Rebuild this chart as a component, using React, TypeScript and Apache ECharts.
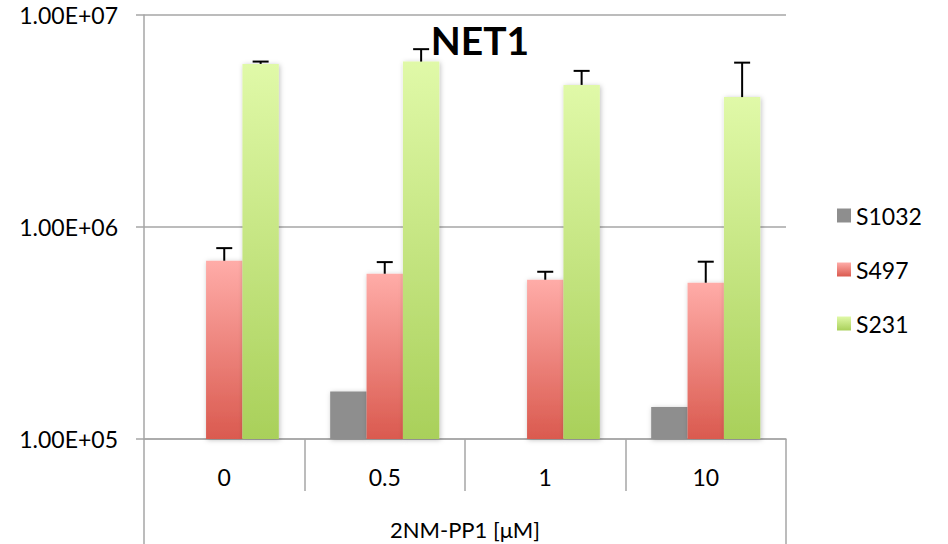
import React, { useEffect, useRef } from "react";
import * as echarts from "echarts";

const categories = ["0", "0.5", "1", "10"];
const seriesNames = ["S1032", "S497", "S231"];
const s1032 = [null, 167600, 98000, 141600];
const s497 = [693000, 602000, 564000, 546000];
const s497Err = [102000, 81000, 51000, 140000];
const s231 = [5880000, 6030000, 4680000, 4100000];
const s231Err = [150000, 870000, 770000, 1860000];
const yTicks = [1e5, 1e6, 1e7];

const FONT = "Lato";
const AXIS_GRAY = "#A6A6A6";
const GAP = 0.32;

const fmtExp = (v: number) => {
  const e = Math.round(Math.log10(v));
  const m = v / Math.pow(10, e);
  return m.toFixed(2) + "E+" + String(e).padStart(2, "0");
};

const grad = (top: string, bottom: string) =>
  new echarts.graphic.LinearGradient(0, 0, 0, 1, [
    { offset: 0, color: top },
    { offset: 1, color: bottom },
  ]);

export default function App() {
  const ref = useRef<HTMLDivElement>(null);
  useEffect(() => {
    if (!ref.current) return;
    const chart = echarts.init(ref.current, undefined, { renderer: "svg" });

    const errData: any[] = [];
    s497.forEach((v, i) => errData.push([i, v, v + s497Err[i], 1]));
    s231.forEach((v, i) => errData.push([i, v, v + s231Err[i], 2]));

    const shadow = {
      shadowBlur: 5,
      shadowColor: "rgba(0,0,0,0.25)",
      shadowOffsetX: 1,
      shadowOffsetY: 1,
    };

    chart.setOption({
      animation: false,
      backgroundColor: "#ffffff",
      grid: { left: 144, right: 162, top: 15, bottom: 105, containLabel: false },
      legend: {
        orient: "vertical",
        left: 837,
        top: 204,
        padding: 0,
        itemWidth: 14,
        itemHeight: 14,
        itemGap: 31,
        icon: "rect",
        data: seriesNames,
        textStyle: { fontFamily: FONT, fontSize: 23, color: "#000", lineHeight: 22 },
      },
      xAxis: {
        type: "category",
        data: categories,
        boundaryGap: true,
        axisLine: { show: true, lineStyle: { color: AXIS_GRAY, width: 1.5 } },
        axisTick: { show: true, length: 52, interval: 0, lineStyle: { color: AXIS_GRAY, width: 1.5 } },
        axisLabel: { margin: 26, fontFamily: FONT, fontSize: 23, color: "#000", interval: 0 },
        splitLine: { show: false },
      },
      yAxis: {
        type: "log",
        logBase: 10,
        min: yTicks[0],
        max: yTicks[yTicks.length - 1],
        axisLine: { show: true, lineStyle: { color: AXIS_GRAY, width: 1.5 } },
        axisTick: { show: true, length: 8, lineStyle: { color: AXIS_GRAY, width: 1.5 } },
        minorTick: { show: false },
        splitLine: { show: true, lineStyle: { color: AXIS_GRAY, width: 1.5 } },
        axisLabel: {
          margin: 26,
          fontFamily: FONT,
          fontSize: 23,
          color: "#000",
          formatter: (v: number) => fmtExp(v),
        },
      },
      series: [
        {
          name: seriesNames[0],
          type: "bar",
          data: s1032,
          barGap: "0%",
          barCategoryGap: GAP * 100 + "%",
          itemStyle: { color: "#8E8E8E", ...shadow },
        },
        {
          name: seriesNames[1],
          type: "bar",
          data: s497,
          barGap: "0%",
          barCategoryGap: GAP * 100 + "%",
          itemStyle: { color: grad("#FFACA8", "#DA5A4F"), ...shadow },
        },
        {
          name: seriesNames[2],
          type: "bar",
          data: s231,
          barGap: "0%",
          barCategoryGap: GAP * 100 + "%",
          itemStyle: { color: grad("#E0F9A8", "#A9D05A"), ...shadow },
        },
        {
          type: "custom",
          data: errData,
          encode: { x: 0, y: [1, 2] },
          z: 10,
          clip: false,
          renderItem: (params: any, api: any) => {
            const cat = api.value(0);
            const base = api.coord([cat, api.value(1)]);
            const top = api.coord([cat, api.value(2)]);
            const band = api.size([1, 1])[0];
            const barW = (band * (1 - GAP)) / 3;
            const x = base[0] + (api.value(3) - 1) * barW;
            const st = { stroke: "#000", lineWidth: 2 };
            return {
              type: "group",
              children: [
                { type: "line", shape: { x1: x, y1: base[1], x2: x, y2: top[1] }, style: st },
                { type: "line", shape: { x1: x - 8, y1: top[1], x2: x + 8, y2: top[1] }, style: st },
              ],
            };
          },
        },
      ],
      graphic: [
        {
          type: "text",
          x: 480,
          y: 40,
          style: {
            text: "NET1",
            fontFamily: FONT,
            fontWeight: "bold",
            fontSize: 39,
            fill: "#000",
            align: "center",
            verticalAlign: "middle",
          },
        },
        {
          type: "text",
          x: 465,
          y: 529,
          style: {
            text: "2NM-PP1 [μM]",
            fontFamily: FONT,
            fontSize: 22,
            fill: "#000",
            align: "center",
            verticalAlign: "middle",
          },
        },
        {
          type: "line",
          shape: { x1: 144, y1: 491, x2: 144, y2: 544 },
          style: { stroke: AXIS_GRAY, lineWidth: 1.5 },
        },
        {
          type: "line",
          shape: { x1: 786, y1: 491, x2: 786, y2: 544 },
          style: { stroke: AXIS_GRAY, lineWidth: 1.5 },
        },
      ],
    });
    return () => chart.dispose();
  }, []);
  return (
    <div
      ref={ref}
      style={{ position: "fixed", left: 0, top: 0, width: 948, height: 544, background: "#fff" }}
    />
  );
}
